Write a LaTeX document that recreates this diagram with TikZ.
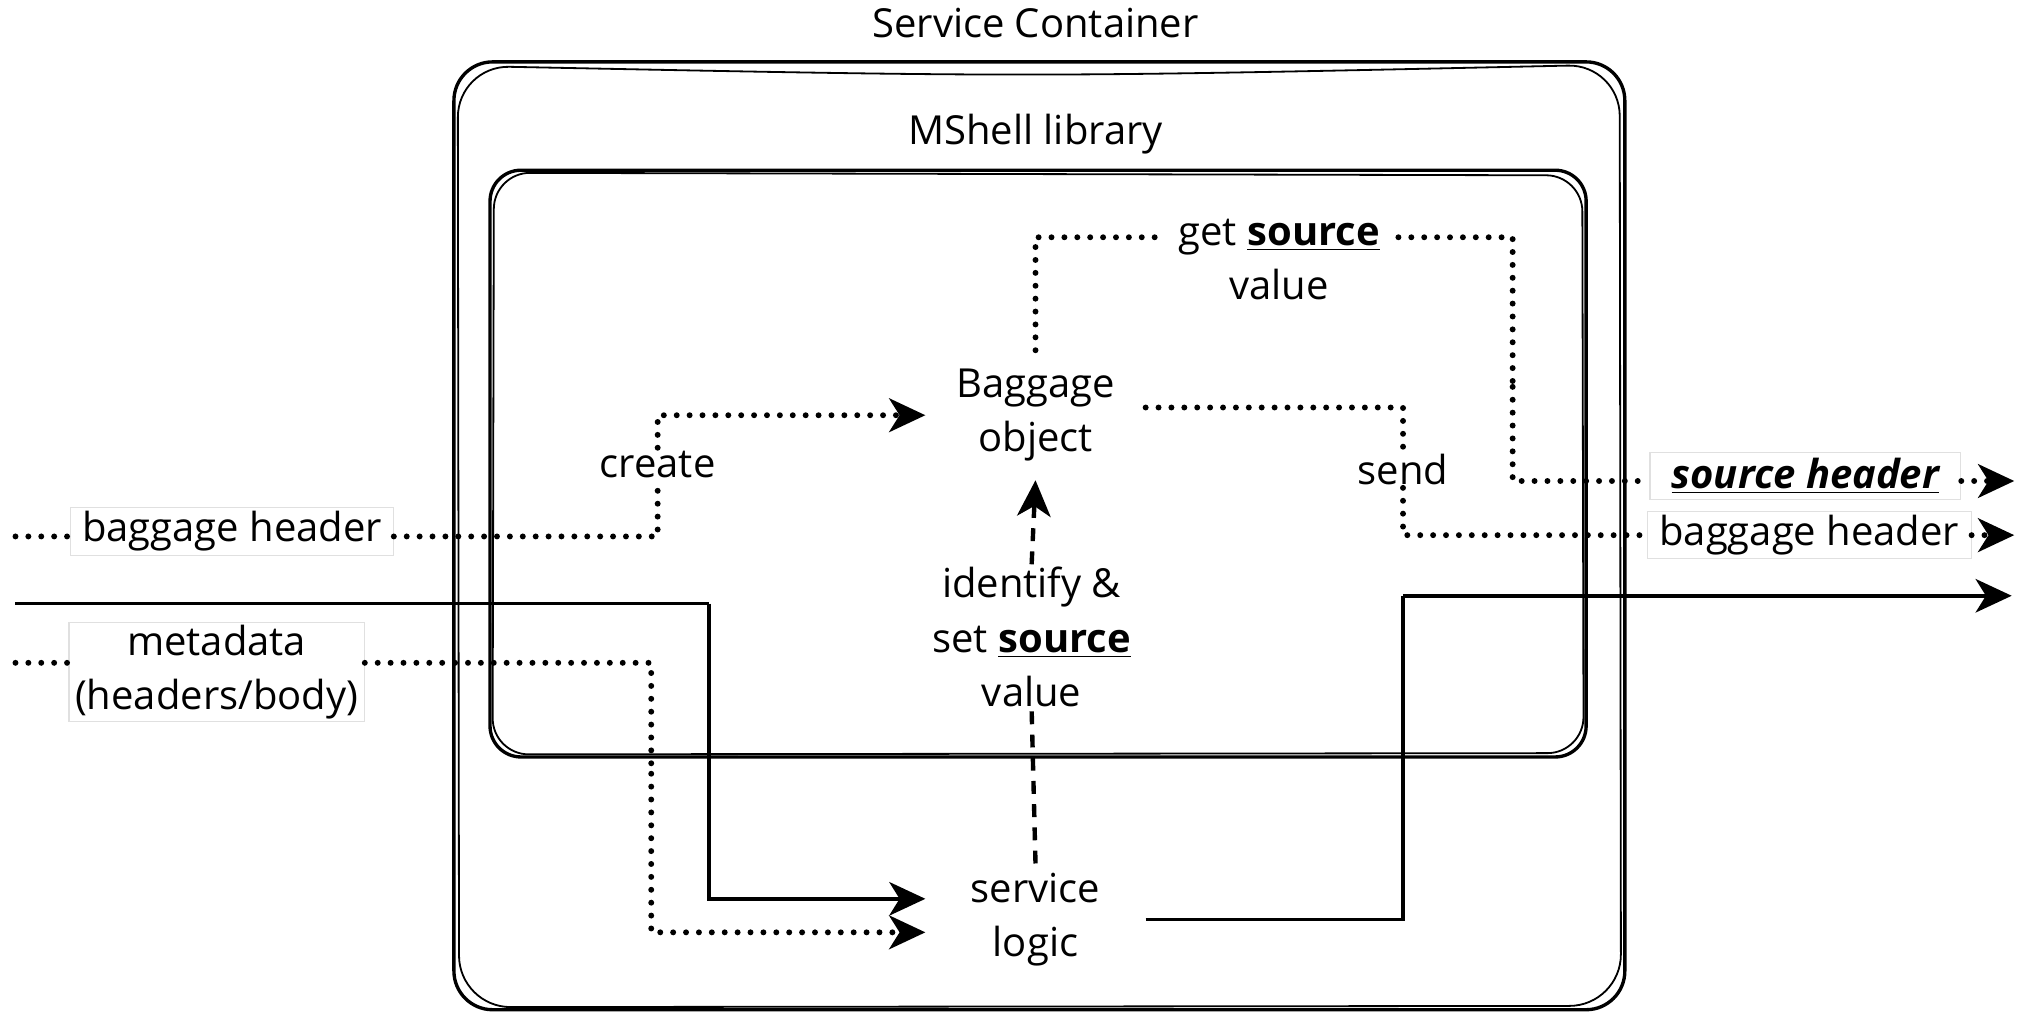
\documentclass[tikz,border=0pt]{standalone}
\usepackage{fontspec}
\setmainfont{Open Sans}
\usetikzlibrary{arrows.meta}
\begin{document}
\begin{tikzpicture}[x=0.5pt,y=-0.5pt,
  lbl/.style={font=\fontsize{15.5}{21}\selectfont, align=center, inner sep=1pt},
  hbox/.style={lbl, fill=white, draw=black!12, line width=0.4pt, inner sep=0pt},
  frame/.style={draw, line width=1.3pt},
  frame2/.style={draw, line width=0.7pt},
  dotline/.style={line width=2.3pt, dash pattern=on 0pt off 5pt, line cap=round},
  dashline/.style={line width=1.7pt, dash pattern=on 5pt off 4pt},
  solidline/.style={line width=1.4pt},
  tip/.style={-{Stealth[length=14pt,width=13pt,inset=4pt]}}
]
\useasboundingbox (0,0) rectangle (1568,786);
% containers
\draw[frame, rounded corners=15pt] (352,48) rectangle (1260,783);
\draw[frame2, rounded corners=20pt] (355,51) .. controls (800,60) .. (1256,50) -- (1257,780) -- (356,781) -- cycle;
\draw[frame, rounded corners=12pt] (380,132) rectangle (1230,587);
\draw[frame2, rounded corners=14pt] (383,134) -- (1227,136) -- (1228,584) -- (382,585) -- cycle;
\node[lbl] (title) at (803,18) {Service Container};
\node[lbl] (lib) at (803,104) {MShell library};
% main nodes
\node[lbl, minimum width=85pt, minimum height=50pt] (bag) at (803,322) {Baggage\\object};
\node[lbl, minimum width=85pt, minimum height=43pt] (svc) at (803,713) {service\\logic};
\node[lbl] (ident) at (800,494) {identify \&\\set \textbf{\underline{source}}\\value};
\node[lbl, inner xsep=7pt] (get) at (992,184) {get \textbf{\underline{source}}};
\node[lbl] (getv) at (992,221) {value};
\node[lbl] (create) at (510,360) {create};
\node[lbl] (send) at (1088,364) {send};
\node[hbox, minimum width=125pt, minimum height=18.5pt] (bagL) at (180,412) {baggage header};
\node[hbox, minimum width=114.5pt, minimum height=38.5pt] (meta) at (168,521) {metadata\\(headers/body)};
\node[hbox, minimum width=120.5pt, minimum height=18pt] (srcR) at (1400,369) {\textbf{\textit{\underline{source header}}}};
\node[hbox, minimum width=125.5pt, minimum height=18pt] (bhR) at (1403,415) {baggage header};
% coordinates
\coordinate (inBag) at (12,416);
\coordinate (inMeta) at (12,514);
\coordinate (inS) at (12,468);
\coordinate (j1) at (550,468);
\coordinate (j2) at (1088,462);
\coordinate (j3) at (505,600);
\coordinate (c2) at (1173,300);
\coordinate (outS) at (1560,462);
\coordinate (outSrc) at (1562,373);
\coordinate (outB) at (1562,415);
% dotted connectors
\draw[dotline] (inBag) -- (inBag -| bagL.west);
\draw[dotline] (inBag -| bagL.east) -| (create.south);
\draw[dotline, tip] (create.north) |- (bag.west);
\draw[dotline] (inMeta) -- (inMeta -| meta.west);
\draw[dotline] (meta.east |- inMeta) -| (j3);
\draw[dotline, tip] (j3) |- ([yshift=-5pt]svc.west);
\draw[dotline] (bag.north) |- (get.west);
\draw[dotline] (get.east) -| (c2);
\draw[dotline] (c2) |- (srcR.west |- outSrc);
\draw[dotline, tip] (srcR.east |- outSrc) -- (outSrc);
\draw[dotline] ([yshift=3pt]bag.east) -| (send.north);
\draw[dotline] (send.south) |- (bhR.west);
\draw[dotline, tip] (bhR.east) -- (outB);
% dashed
\draw[dashline] (svc.north) -- (ident.south);
\draw[dashline, tip] (ident.north) -- (bag.south);
% solid
\draw[solidline] (inS) -- (j1);
\draw[solidline, tip] (j1) |- ([yshift=8pt]svc.west);
\draw[solidline] (svc.east) -| (j2);
\draw[solidline, tip] (j2) -- (outS);
\end{tikzpicture}
\end{document}
